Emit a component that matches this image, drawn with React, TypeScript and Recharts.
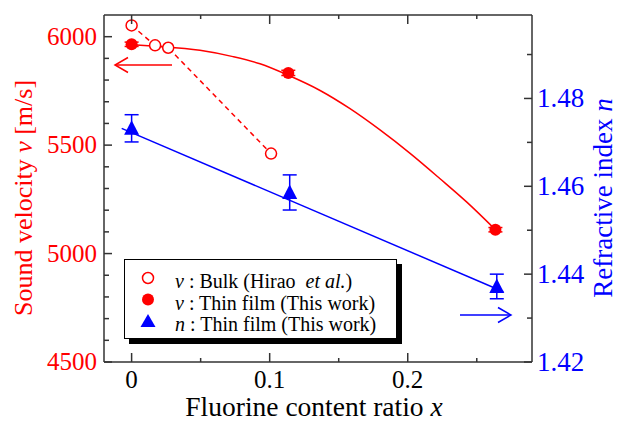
import {
  ComposedChart,
  ErrorBar,
  Legend,
  Line,
  ReferenceLine,
  Scatter,
  XAxis,
  YAxis,
} from "recharts";

const RED = "#ff0000";
const BLUE = "#0000ff";
const AXIS = "#333";
const FONT = "'Liberation Serif', 'Times New Roman', Times, 'DejaVu Serif', serif";

// bulk (Hirao et al.)
const bulkX = [0, 0.017, 0.0265, 0.101];
const bulkV = [6052, 5960, 5949, 5461];

// thin film sound velocity
const filmX = [0, 0.1135, 0.2635];
const filmV = [5965, 5833, 5110];
const filmVErr = [10, 12, 10];

// thin film refractive index
const indexX = [0, 0.1145, 0.2645];
const indexN = [1.4732, 1.4586, 1.4372];
const indexErr = [0.0031, 0.004, 0.0028];

// fitted curves
const curveX = [0, 0.0205, 0.0495, 0.0734, 0.093, 0.1135, 0.1365, 0.1582, 0.1799, 0.2017, 0.2234, 0.2428, 0.2635];
const curveV = [5963, 5955, 5937, 5908, 5875, 5822, 5752, 5668, 5570, 5462, 5345, 5237, 5110];
const fitX = [-0.0072, 0.2693];
const fitN = [1.4732, 1.436];

// axes
const xTicks = [0, 0.05, 0.1, 0.15, 0.2, 0.25];
const xLabels = ["0", "", "0.1", "", "0.2", ""];
const vTicks = [4500, 4600, 4700, 4800, 4900, 5000, 5100, 5200, 5300, 5400, 5500, 5600, 5700, 5800, 5900, 6000];
const vLabels = [4500, 5000, 5500, 6000];
const nTicks = [1.42, 1.43, 1.44, 1.45, 1.46, 1.47, 1.48, 1.49];
const nLabels = ["1.42", "", "1.44", "", "1.46", "", "1.48", ""];

const W = 617;
const H = 422;
const TOP = 15;

const bulk = bulkX.map((x, i) => ({ x, v: bulkV[i] }));
const film = filmX.map((x, i) => ({ x, v: filmV[i], err: filmVErr[i] }));
const index = indexX.map((x, i) => ({ x, n: indexN[i], err: indexErr[i] }));
const curve = curveX.map((x, i) => ({ x, v: curveV[i] }));
const fit = fitX.map((x, i) => ({ x, n: fitN[i] }));

const txt = { fontFamily: FONT };

function XTick(props: any) {
  const { x, y, index: i } = props;
  const major = xLabels[i] !== "";
  const len = major ? 9 : 4;
  return (
    <g>
      <line x1={x} y1={y} x2={x} y2={y - len} stroke={AXIS} strokeWidth={1.5} />
      <line x1={x} y1={TOP} x2={x} y2={TOP + len} stroke={AXIS} strokeWidth={1.5} />
      <text x={x} y={y + 26} textAnchor="middle" fontSize={25} style={txt} fill="#000">
        {xLabels[i]}
      </text>
    </g>
  );
}

function VTick(props: any) {
  const { x, y, payload } = props;
  const major = vLabels.includes(payload.value);
  return (
    <g>
      <line x1={x} y1={y} x2={x + (major ? 8 : 5)} y2={y} stroke={AXIS} strokeWidth={1.5} />
      {major && (
        <text x={x - 7} y={y + 8} textAnchor="end" fontSize={25} style={txt} fill={RED}>
          {payload.value}
        </text>
      )}
    </g>
  );
}

function NTick(props: any) {
  const { x, y, index: i } = props;
  const major = nLabels[i] !== "";
  return (
    <g>
      <line x1={x} y1={y} x2={x - (major ? 8 : 5)} y2={y} stroke={AXIS} strokeWidth={1.5} />
      <text x={x + 5} y={y + 9} textAnchor="start" fontSize={27} style={txt} fill={BLUE}>
        {nLabels[i]}
      </text>
    </g>
  );
}

const openCircle = (p: any) => (
  <circle key={`o${p.index}`} cx={p.cx} cy={p.cy} r={5.5} fill="#fff" stroke={RED} strokeWidth={1.5} />
);
const dotCircle = (p: any) => <circle cx={p.cx} cy={p.cy} r={6} fill={RED} />;
const triangle = (p: any) => (
  <polygon
    points={`${p.cx},${p.cy - 8} ${p.cx - 7.5},${p.cy + 6.5} ${p.cx + 7.5},${p.cy + 6.5}`}
    fill={BLUE}
  />
);

function LegendBox() {
  const rows = [
    { sym: "v", rest: " : Bulk (Hirao\u00a0 ", tail: "et al.", end: ")", mark: "open" },
    { sym: "v", rest: " : Thin film (This work)", tail: "", end: "", mark: "dot" },
    { sym: "n", rest: " : Thin film (This work)", tail: "", end: "", mark: "tri" },
  ];
  return (
    <div
      style={{
        width: 273,
        height: 80,
        boxSizing: "border-box",
        border: "1.5px solid #000",
        boxShadow: "5px 5px 0 #000",
        background: "#fff",
      }}
    >
      <svg width={270} height={77} style={{ display: "block" }}>
        {rows.map((r, i) => {
          const cy = 18 + i * 21.5;
          return (
            <g key={i}>
              {r.mark === "open" && <circle cx={23} cy={cy} r={5.5} fill="#fff" stroke={RED} strokeWidth={1.5} />}
              {r.mark === "dot" && <circle cx={23} cy={cy} r={6} fill={RED} />}
              {r.mark === "tri" && (
                <polygon points={`23,${cy - 7} 15.5,${cy + 6} 30.5,${cy + 6}`} fill={BLUE} />
              )}
              <text x={50} y={cy + 10} fontSize={20} style={txt} fill="#000">
                <tspan fontStyle="italic">{r.sym}</tspan>
                {r.rest}
                {r.tail && <tspan fontStyle="italic">{r.tail}</tspan>}
                {r.end}
              </text>
            </g>
          );
        })}
      </svg>
    </div>
  );
}

export default function App() {
  return (
    <div style={{ position: "absolute", left: 0, top: 0, width: W, height: H, background: "#fff" }}>
      <ComposedChart width={W} height={H} margin={{ top: TOP, right: 0, bottom: 0, left: 0 }}>
        <XAxis
          type="number"
          dataKey="x"
          domain={[-0.02, 0.29]}
          ticks={xTicks}
          interval={0}
          allowDataOverflow
          height={60}
          tickSize={0}
          tickMargin={0}
          tickLine={false}
          axisLine={{ stroke: AXIS, strokeWidth: 1.5 }}
          tick={<XTick />}
        />
        <YAxis
          yAxisId="v"
          dataKey="v"
          type="number"
          domain={[4500, 6100]}
          ticks={vTicks}
          interval={0}
          allowDataOverflow
          width={104}
          tickSize={0}
          tickMargin={0}
          tickLine={false}
          axisLine={{ stroke: AXIS, strokeWidth: 1.5 }}
          tick={<VTick />}
        />
        <YAxis
          yAxisId="n"
          dataKey="n"
          type="number"
          orientation="right"
          domain={[1.42, 1.499]}
          ticks={nTicks}
          interval={0}
          allowDataOverflow
          width={85}
          tickSize={0}
          tickMargin={0}
          tickLine={false}
          axisLine={{ stroke: AXIS, strokeWidth: 1.5 }}
          tick={<NTick />}
        />
        <ReferenceLine yAxisId="v" y={6100} stroke={AXIS} strokeWidth={1.5} />
        <Line
          yAxisId="v"
          data={curve}
          dataKey="v"
          type="monotone"
          stroke={RED}
          strokeWidth={1.5}
          dot={false}
          isAnimationActive={false}
        />
        <Line
          yAxisId="n"
          data={fit}
          dataKey="n"
          type="linear"
          stroke={BLUE}
          strokeWidth={1.5}
          dot={false}
          isAnimationActive={false}
        />
        <Line
          yAxisId="v"
          data={bulk}
          dataKey="v"
          type="linear"
          stroke={RED}
          strokeWidth={1.5}
          strokeDasharray="5 4"
          dot={openCircle}
          isAnimationActive={false}
        />
        <Scatter yAxisId="v" data={film} shape={dotCircle} isAnimationActive={false}>
          <ErrorBar dataKey="err" direction="y" width={7} stroke={RED} strokeWidth={1.5} />
        </Scatter>
        <Scatter yAxisId="n" data={index} shape={triangle} isAnimationActive={false}>
          <ErrorBar dataKey="err" direction="y" width={7} stroke={BLUE} strokeWidth={1.5} />
        </Scatter>
        <Legend
          layout="horizontal"
          verticalAlign="middle"
          align="center"
          wrapperStyle={{ left: 124, top: 259, width: 273, height: 80 }}
          content={() => <LegendBox />}
        />
      </ComposedChart>
      <svg
        width={W}
        height={H}
        style={{ position: "absolute", left: 0, top: 0, pointerEvents: "none" }}
      >
        <text
          transform="translate(32,198) rotate(-90)"
          textAnchor="middle"
          fontSize={26}
          style={txt}
          fill={RED}
        >
          Sound velocity <tspan fontStyle="italic">v</tspan> [m/s]
        </text>
        <text
          transform="translate(612,198) rotate(-90)"
          textAnchor="middle"
          fontSize={27}
          style={txt}
          fill={BLUE}
        >
          Refractive index <tspan fontStyle="italic">n</tspan>
        </text>
        <text x={314} y={416} textAnchor="middle" fontSize={27.5} style={txt} fill="#000">
          Fluorine content ratio <tspan fontStyle="italic">x</tspan>
        </text>
        <line x1={115} y1={65} x2={172} y2={65} stroke={RED} strokeWidth={1.5} />
        <polyline points="128,57.5 115,65 128,72.5" fill="none" stroke={RED} strokeWidth={1.5} />
        <line x1={460} y1={315} x2={511} y2={315} stroke={BLUE} strokeWidth={1.5} />
        <polyline points="498,307.5 511,315 498,322.5" fill="none" stroke={BLUE} strokeWidth={1.5} />
      </svg>
    </div>
  );
}
